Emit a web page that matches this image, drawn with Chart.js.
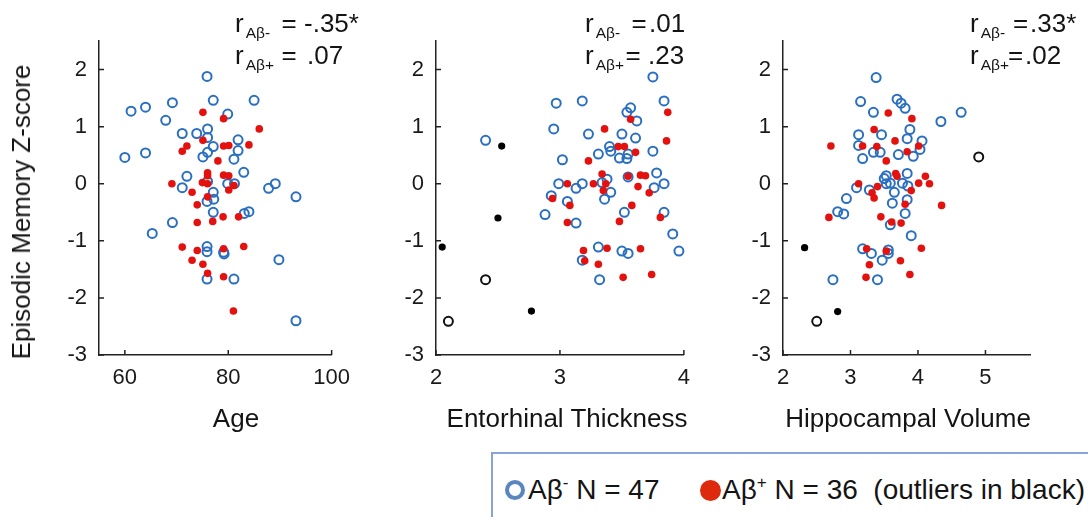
<!DOCTYPE html>
<html><head><meta charset="utf-8">
<script src="https://cdn.jsdelivr.net/npm/chart.js@4.4.1/dist/chart.umd.min.js"></script>
<style>
body{margin:0;background:#fff;width:1088px;height:517px;overflow:hidden;position:relative;font-family:"Liberation Sans",Arial,sans-serif;color:#141414}
canvas{position:absolute;top:0}
.t{position:absolute;white-space:nowrap;line-height:1}
.ann{font-size:26px;line-height:26px}
.ann .s{font-size:15.5px;position:relative;top:6px;margin-left:2px}
.leg{font-size:28px;line-height:28px}
.leg sup{font-size:17px;position:relative;top:-11px;vertical-align:baseline}
</style></head><body>
<canvas id="c1" style="left:0" width="360" height="450"></canvas>
<canvas id="c2" style="left:370px" width="330" height="450"></canvas>
<canvas id="c3" style="left:710px" width="378" height="450"></canvas>

<div class="t" id="ytitle" style="font-size:26px;line-height:26px;left:20.5px;top:199px;transform:translate(-50%,0) rotate(-90deg);transform-origin:50% 50%">Episodic Memory Z-score</div>
<div class="t" style="font-size:26px;line-height:26px;left:236px;top:405px;transform:translateX(-50%)">Age</div>
<div class="t" style="font-size:26px;line-height:26px;left:567px;top:405px;transform:translateX(-50%)">Entorhinal Thickness</div>
<div class="t" style="font-size:26px;line-height:26px;left:908px;top:405px;transform:translateX(-50%)">Hippocampal Volume</div>

<div class="t ann" style="left:235px;top:10px">r<span class="s">Aβ-</span></div>
<div class="t ann" style="left:281.5px;top:10px">=</div>
<div class="t ann" style="left:304px;top:10px">-.35*</div>
<div class="t ann" style="left:235px;top:42px">r<span class="s">Aβ+</span></div>
<div class="t ann" style="left:281.5px;top:42px">=</div>
<div class="t ann" style="left:307px;top:42px">.07</div>

<div class="t ann" style="left:585px;top:10px">r<span class="s">Aβ-</span></div>
<div class="t ann" style="left:631.5px;top:10px">=</div>
<div class="t ann" style="left:649px;top:10px">.01</div>
<div class="t ann" style="left:585px;top:42px">r<span class="s">Aβ+</span></div>
<div class="t ann" style="left:625.5px;top:42px">=</div>
<div class="t ann" style="left:648px;top:42px">.23</div>

<div class="t ann" style="left:970px;top:10px">r<span class="s">Aβ-</span></div>
<div class="t ann" style="left:1013px;top:10px">=</div>
<div class="t ann" style="left:1030px;top:10px">.33*</div>
<div class="t ann" style="left:970px;top:42px">r<span class="s">Aβ+</span></div>
<div class="t ann" style="left:1008px;top:42px">=</div>
<div class="t ann" style="left:1025px;top:42px">.02</div>

<div style="position:absolute;left:491px;top:452px;width:640px;height:120px;border:2px solid #86a5d6"></div>
<div style="position:absolute;left:505px;top:480px;width:12px;height:12px;border:4px solid #5a86c0;border-radius:50%"></div>
<div class="t leg" style="left:528px;top:476px">Aβ<sup>-</sup> N = 47</div>
<div style="position:absolute;left:700px;top:480px;width:21px;height:21px;background:#dd2a0c;border-radius:50%"></div>
<div class="t leg" style="left:722px;top:476px">Aβ<sup>+</sup> N = 36&nbsp; (outliers in black)</div>

<script>
// ---- data ----
const yTicks = [-3, -2, -1, 0, 1, 2];
const ageTicks = [60, 80, 100];
const entTicks = [2, 3, 4];
const hipTicks = [2, 3, 4, 5];

// Age panel
const ageNeg = [[75.9,1.88],[61.2,1.27],[64.0,1.34],[69.2,1.42],[77.1,1.46],[85.0,1.46],[79.9,1.22],[67.9,1.11],
 [76.0,0.96],[71.1,0.88],[73.9,0.88],[76.0,0.81],[81.9,0.77],[77.1,0.65],[81.9,0.58],[76.0,0.55],[75.1,0.47],
 [60.0,0.46],[64.0,0.54],[81.1,0.43],[83.0,0.20],[72.0,0.13],[71.1,-0.07],[76.0,0.04],[79.9,0.0],[81.2,0.0],
 [77.1,-0.15],[77.2,-0.27],[75.9,-0.31],[77.1,-0.50],[83.1,-0.52],[84.0,-0.49],[87.8,-0.08],[89.1,0.0],
 [93.1,-0.23],[69.2,-0.68],[65.3,-0.87],[75.9,-1.10],[75.9,-1.19],[79.1,-1.20],[79.2,-1.23],[89.8,-1.33],
 [75.9,-1.67],[81.1,-1.67],[93.1,-2.40]];
const agePos = [[75.1,1.25],[79.1,1.14],[86.0,0.96],[75.1,0.76],[72.0,0.66],[71.1,0.57],[79.1,0.66],[80.1,0.67],
 [84.0,0.68],[78.0,0.40],[76.0,0.19],[76.0,0.14],[79.1,0.15],[80.1,0.14],[69.1,0.0],[75.0,0.02],[76.0,0.0],
 [81.1,-0.03],[80.1,-0.11],[73.0,-0.15],[76.0,-0.23],[74.0,-0.37],[74.0,-0.68],[77.0,-0.66],[79.0,-0.58],
 [82.0,-0.58],[71.1,-1.11],[74.0,-1.17],[79.1,-1.14],[83.0,-1.10],[73.0,-1.34],[75.1,-1.41],[76.0,-1.57],
 [79.1,-1.63],[81.0,-2.23]];
const ageNegOut = [];
const agePosOut = [];

// Entorhinal panel
const entNeg = [[3.75,1.87],[2.97,1.41],[3.18,1.45],[3.84,1.45],[3.57,1.33],[3.54,1.25],[3.62,1.10],[2.95,0.96],
 [3.23,0.87],[3.50,0.87],[3.61,0.80],[2.40,0.76],[3.40,0.65],[3.41,0.57],[3.31,0.52],[3.75,0.57],[3.55,0.52],
 [3.48,0.45],[3.54,0.44],[3.02,0.42],[3.78,0.19],[3.55,0.12],[3.38,0.08],[3.34,0.02],[2.99,0.0],[3.18,0.0],
 [3.84,0.0],[3.13,-0.08],[3.76,-0.07],[3.41,-0.15],[2.93,-0.21],[3.36,-0.27],[3.06,-0.31],[2.88,-0.54],
 [3.52,-0.50],[3.84,-0.50],[3.13,-0.69],[3.91,-0.88],[3.31,-1.11],[3.50,-1.18],[3.55,-1.22],[3.96,-1.18],
 [3.18,-1.34],[3.32,-1.68]];
const entPos = [[3.87,1.25],[3.57,1.13],[3.36,0.96],[3.86,0.75],[3.47,0.65],[3.52,0.65],[3.61,0.55],[3.23,0.40],
 [3.34,0.17],[3.65,0.15],[3.69,0.14],[3.55,0.13],[3.06,0.0],[3.27,0.0],[3.37,0.0],[3.63,-0.05],[3.35,-0.12],
 [3.72,-0.16],[2.94,-0.26],[3.08,-0.38],[3.58,-0.38],[3.06,-0.68],[3.48,-0.66],[3.81,-0.59],[3.19,-1.17],
 [3.38,-1.13],[3.65,-1.14],[3.20,-1.35],[3.31,-1.41],[3.51,-1.64],[3.74,-1.59]];
const entNegOut = [[2.40,-1.68],[2.10,-2.41]];
const entPosOut = [[2.53,0.66],[2.50,-0.60],[2.05,-1.11],[2.77,-2.23]];

// Hippocampal panel
const hipNeg = [[3.38,1.86],[3.15,1.44],[3.69,1.48],[3.75,1.41],[3.81,1.32],[3.34,1.25],[4.64,1.25],[4.34,1.09],
 [3.88,0.95],[3.46,0.86],[3.12,0.86],[3.84,0.79],[4.06,0.75],[3.12,0.67],[4.03,0.60],[3.34,0.55],[3.44,0.55],
 [3.71,0.51],[3.93,0.48],[3.18,0.44],[3.84,0.18],[3.53,0.14],[3.50,0.09],[3.59,0.01],[3.53,0.0],[3.77,0.01],
 [3.85,-0.04],[3.09,-0.07],[3.28,-0.11],[3.65,-0.15],[2.94,-0.26],[3.84,-0.28],[3.62,-0.34],[2.81,-0.49],
 [2.90,-0.53],[3.81,-0.52],[3.59,-0.72],[3.90,-0.91],[3.18,-1.14],[3.31,-1.22],[3.56,-1.16],[3.56,-1.22],
 [3.47,-1.34],[2.74,-1.68],[3.40,-1.68]];
const hipPos = [[3.56,1.24],[3.91,1.14],[3.35,0.95],[3.66,0.75],[2.71,0.66],[3.18,0.66],[3.39,0.65],[4.01,0.66],
 [3.84,0.56],[3.53,0.40],[3.67,0.18],[3.69,0.13],[4.11,0.13],[3.12,0.0],[4.01,0.01],[4.17,0.0],[3.40,-0.05],
 [3.32,-0.16],[3.35,-0.25],[3.90,-0.12],[3.81,-0.36],[4.35,-0.38],[2.68,-0.59],[3.45,-0.58],[3.61,-0.67],
 [3.75,-0.69],[3.24,-1.14],[3.53,-1.18],[4.05,-1.13],[3.74,-1.35],[3.28,-1.42],[3.23,-1.64],[3.88,-1.59]];
const hipNegOut = [[2.50,-2.41],[4.90,0.47]];
const hipPosOut = [[2.32,-1.12],[2.81,-2.24]];

// ---- drawing ----
const FONT = '"Liberation Sans", Arial, sans-serif';
const toXY = a => a.map(p => ({x: p[0], y: p[1]}));

const inwardTicks = {
  id: 'inwardTicks',
  beforeDatasetsDraw(chart) {
    const {ctx, chartArea: a, scales: {x, y}} = chart;
    ctx.save();
    ctx.strokeStyle = '#222';
    ctx.lineWidth = 1.5;
    ctx.beginPath();
    x.ticks.forEach(t => { const px = x.getPixelForValue(t.value); ctx.moveTo(px, a.bottom); ctx.lineTo(px, a.bottom - 5); });
    y.ticks.forEach(t => { const py = y.getPixelForValue(t.value); ctx.moveTo(a.left, py); ctx.lineTo(a.left + 5, py); });
    ctx.stroke();
    ctx.restore();
  }
};

function panel(id, neg, pos, negOut, posOut, xMin, xMax, xTicks, yW, padR) {
  const common = {
    grid: {display: true, drawOnChartArea: false, drawTicks: false},
    border: {display: true, color: '#222', width: 1.5},
  };
  new Chart(document.getElementById(id), {
    type: 'scatter',
    data: {
      datasets: [
        {data: toXY(pos), pointRadius: 3.8, pointBorderWidth: 0, backgroundColor: '#e3120f', borderColor: '#e3120f'},
        {data: toXY(posOut), pointRadius: 3.6, pointBorderWidth: 0, backgroundColor: '#000', borderColor: '#000'},
        {data: toXY(neg), pointRadius: 4.5, pointBorderWidth: 2, backgroundColor: 'rgba(0,0,0,0)', borderColor: '#2a6fc0'},
        {data: toXY(negOut), pointRadius: 4.5, pointBorderWidth: 2, backgroundColor: 'rgba(0,0,0,0)', borderColor: '#111'}
      ]
    },
    options: {
      responsive: false,
      animation: false,
      events: [],
      clip: false,
      layout: {padding: {top: 41, right: padR, left: 0, bottom: 0}},
      plugins: {legend: {display: false}, tooltip: {enabled: false}},
      scales: {
        x: Object.assign({}, common, {
          type: 'linear', min: xMin, max: xMax,
          afterBuildTicks: s => { s.ticks = xTicks.map(v => ({value: v})); },
          afterFit: s => { s.height = 95; },
          ticks: {padding: 10, color: '#1a1a1a', font: {size: 22, family: FONT}, maxRotation: 0, autoSkip: false, callback: v => String(v)}
        }),
        y: Object.assign({}, common, {
          type: 'linear', min: -3, max: 2.5,
          afterBuildTicks: s => { s.ticks = yTicks.map(v => ({value: v})); },
          afterFit: s => { s.width = yW; },
          ticks: {padding: 12, color: '#1a1a1a', font: {size: 22, family: FONT}, autoSkip: false, callback: v => String(v)}
        })
      }
    },
    plugins: [inwardTicks]
  });
}

panel('c1', ageNeg, agePos, ageNegOut, agePosOut, 55, 100, ageTicks, 99, 14);
panel('c2', entNeg, entPos, entNegOut, entPosOut, 2, 4, entTicks, 66, 15);
panel('c3', hipNeg, hipPos, hipNegOut, hipPosOut, 2, 5.66, hipTicks, 73, 58);
</script>
</body></html>
